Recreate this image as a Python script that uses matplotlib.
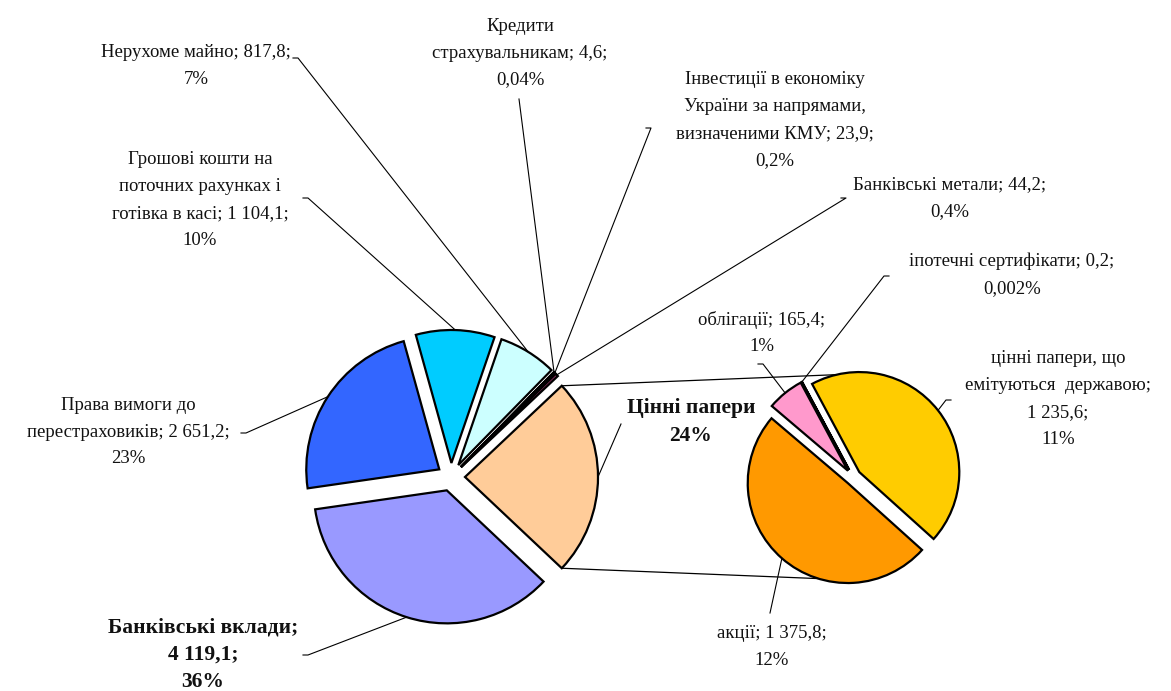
import numpy as np
import matplotlib.pyplot as plt

plt.rcParams['font.family'] = ['Liberation Serif', 'DejaVu Serif']

# ---- data ----
# main pie (counterclockwise after the "Цінні папери" slice)
main_names = ['Банківські метали',
              'Інвестиції в економіку\nУкраїни за напрямами,\nвизначеними КМУ',
              'Кредити\nстрахувальникам',
              'Нерухоме майно',
              'Грошові кошти на\nпоточних рахунках і\nготівка в касі',
              'Права вимоги до\nперестраховиків',
              'Банківські вклади']
main_vals = [44.2, 23.9, 4.6, 817.8, 1104.1, 2651.2, 4119.1]
main_pct = ['0,4%', '0,2%', '0,04%', '7%', '10%', '23%', '36%']
main_colors = ['#993366', '#FF8080', '#660066', '#CCFFFF', '#00CCFF', '#3366FF', '#9999FF']

other_name = 'Цінні папери'
other_pct = '24%'
other_color = '#FFCC99'

# second pie = breakdown of "Цінні папери"
sub_names = ['цінні папери, що\nемітуються  державою', 'іпотечні сертифікати', 'облігації', 'акції']
sub_vals = [1235.6, 0.2, 165.4, 1375.8]
sub_pct = ['11%', '0,002%', '1%', '12%']
sub_colors = ['#FFCC00', '#CCCCFF', '#FF99CC', '#FF9900']

W, H = 1171, 691


def Y(y):
    # picture rows -> axis y
    return H - y


def fmt_val(v):
    return f"{v:,.1f}".replace(',', ' ').replace('.', ',')


fig = plt.figure(figsize=(W / 100, H / 100), dpi=100)
ax = fig.add_axes([0, 0, 1, 1])

wp = dict(edgecolor='black', linewidth=1.6)

# main pie
other_val = sum(sub_vals)
vals1 = [other_val] + main_vals
frac = other_val / sum(vals1)
c1 = (451, Y(477))
w1, _ = ax.pie(vals1, colors=[other_color] + main_colors, startangle=-frac * 180,
               counterclock=True, radius=133, center=c1,
               explode=[14] * len(vals1), wedgeprops=wp)

# second pie
c2 = (853, Y(477))
r2 = 100
w2, _ = ax.pie(sub_vals, colors=sub_colors, startangle=-42, counterclock=True,
               radius=r2, center=c2, explode=[8] * len(sub_vals),
               wedgeprops=wp)


def arc_pt(w, t=None):
    if t is None:
        t = (w.theta1 + w.theta2) / 2
    a = np.radians(t)
    return w.center[0] + w.r * np.cos(a), w.center[1] + w.r * np.sin(a)


# connector lines between the pies
pw = w1[0]
for t, sgn in [(pw.theta2, 1), (pw.theta1, -1)]:
    x0, y0 = arc_pt(pw, t)
    ax.plot([x0, c2[0]], [y0, c2[1] + sgn * (r2 + 3)], color='black', lw=0.9, zorder=0)

lk = dict(color='black', lw=0.8, zorder=3)


def label(w, txt, xy, lead, tick, bold=False):
    if bold:
        ax.text(xy[0], Y(xy[1]), txt, ha='center', va='center', fontsize=15.5,
                linespacing=1.48, fontweight='bold', color='#111111')
    else:
        ax.text(xy[0], Y(xy[1]), txt, ha='center', va='center', fontsize=13.5,
                linespacing=1.75, color='#111111')
    px, py = arc_pt(w)
    lx, ly = lead[0], Y(lead[1])
    ax.plot([lx + tick, lx, px], [ly, ly, py], **lk)


# label layout (picture coords)
main_xy = [(950, 198), (775, 120), (520, 53), (196, 66), (200, 200), (128, 432), (203, 655)]
main_lead = [(846, 198), (651, 128), (519, 99), (298, 58), (308, 198), (246, 433), (308, 655)]
main_tick = [-5, -5, 0, -5, -5, -5, -5]

for i, n in enumerate(main_names):
    bold = (i == len(main_names) - 1)
    sep = ';\n' if bold else '; '
    txt = f"{n}{sep}{fmt_val(main_vals[i])};\n{main_pct[i]}"
    label(w1[i + 1], txt, main_xy[i], main_lead[i], main_tick[i], bold)

label(w1[0], f"{other_name}\n{other_pct}", (691, 422), (621, 424), 0, True)

sub_xy = [(1058, 399), (1012, 275), (762, 333), (772, 647)]
sub_lead = [(946, 400), (884, 276), (763, 364), (770, 613)]
sub_tick = [5, 5, -5, 0]
for i, n in enumerate(sub_names):
    sep = ';\n' if i == 0 else '; '
    txt = f"{n}{sep}{fmt_val(sub_vals[i])};\n{sub_pct[i]}"
    label(w2[i], txt, sub_xy[i], sub_lead[i], sub_tick[i])

ax.set_xlim(0, W)
ax.set_ylim(0, H)
ax.set_aspect('equal')
ax.axis('off')

fig.savefig('out.png', dpi=100, facecolor='white')
